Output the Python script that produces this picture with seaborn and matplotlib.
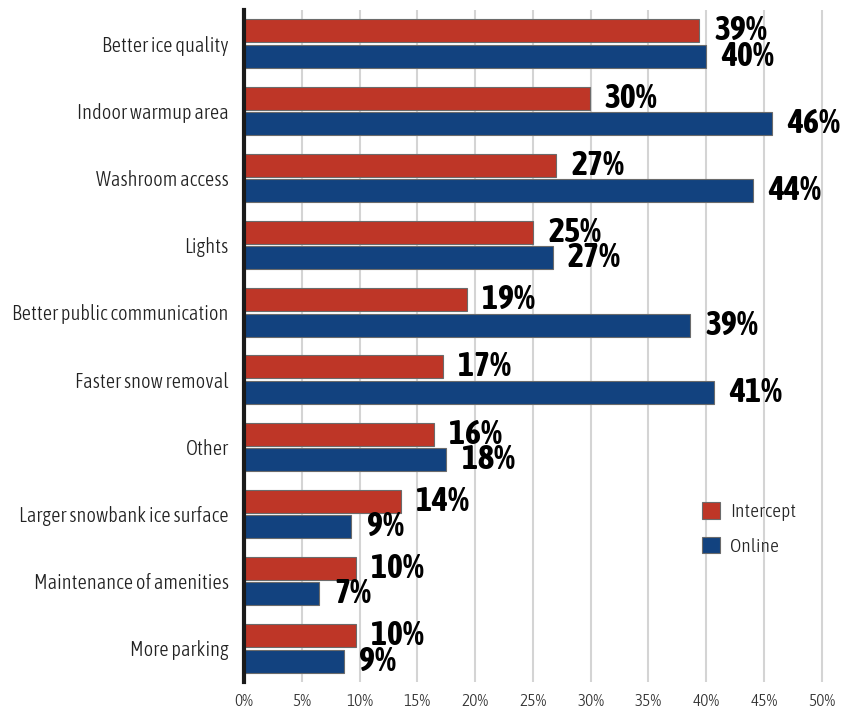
"""
Grouped horizontal bar chart: rink improvements, intercept vs online survey
"""
import matplotlib
matplotlib.use("Agg")
import matplotlib.pyplot as plt
from matplotlib import font_manager
from matplotlib.font_manager import FontProperties
from matplotlib.patches import Patch
import seaborn as sns
import pandas as pd

# ========== Data ==========
categories = [
    "Better ice quality",
    "Indoor warmup area",
    "Washroom access",
    "Lights",
    "Better public communication",
    "Faster snow removal",
    "Other",
    "Larger snowbank ice surface",
    "Maintenance of amenities",
    "More parking",
]
intercept = [39.4, 29.9, 27.0, 25.0, 19.3, 17.2, 16.4, 13.6, 9.7, 9.7]
online = [40.0, 45.7, 44.0, 26.7, 38.6, 40.7, 17.5, 9.3, 6.5, 8.65]
intercept_labels = ["39%", "30%", "27%", "25%", "19%", "17%", "16%", "14%", "10%", "10%"]
online_labels = ["40%", "46%", "44%", "27%", "39%", "41%", "18%", "9%", "7%", "9%"]
groups = ["Intercept", "Online"]
x_ticks = [0, 5, 10, 15, 20, 25, 30, 35, 40, 45, 50]

RED = "#BE3627"
BLUE = "#12427F"

# ========== Fonts: condensed light + condensed bold from one family ==========
def weight_num(w):
    if isinstance(w, (int, float)):
        return w
    return {"light": 300, "normal": 400, "regular": 400, "medium": 500,
            "semibold": 600, "bold": 700, "heavy": 800, "black": 900}.get(str(w).lower(), 400)


def is_narrow(f):
    return ("Condensed" in f.name or "Narrow" in f.name
            or str(f.stretch) in ("condensed", "semi-condensed", "extra-condensed")
            or "Condensed" in f.fname or "Narrow" in f.fname)


narrow_fonts = [f for f in font_manager.fontManager.ttflist
                if is_narrow(f) and f.style == "normal"]

light_fp = FontProperties(family="DejaVu Sans")
bold_fp = FontProperties(family="DejaVu Sans", weight="bold")
if narrow_fonts:
    light = sorted(narrow_fonts, key=lambda f: abs(weight_num(f.weight) - 300))[0]
    same = [f for f in narrow_fonts if f.name == light.name]
    bold = sorted(same, key=lambda f: (abs(weight_num(f.weight) - 700), weight_num(f.weight)))[0]
    light_fp = FontProperties(fname=light.fname)
    bold_fp = FontProperties(fname=bold.fname)

sns.set_theme(style="white")

df = pd.DataFrame({
    "category": categories * 2,
    "group": ["Intercept"] * len(categories) + ["Online"] * len(categories),
    "value": intercept + online,
})

fig = plt.figure(figsize=(8.63, 7.15), dpi=100)
ax = fig.add_axes([0.2827, 0.0462, 0.6964, 0.9398])

sns.barplot(data=df, y="category", x="value", hue="group", orient="h",
            palette=[RED, BLUE], saturation=1, width=0.76, gap=0.1,
            edgecolor="#6b6b6b", linewidth=0.8, ax=ax, legend=False, zorder=3)

for cont, labs in zip(ax.containers, [intercept_labels, online_labels]):
    texts = ax.bar_label(cont, labels=labs, padding=11, color="black")
    for t in texts:
        t.set_fontproperties(bold_fp)
        t.set_fontsize(24.5)

ax.set_xlim(0, 52)
ax.set_xticks(x_ticks)
ax.set_xticklabels([f"{t}%" for t in x_ticks])
ax.set_yticklabels(categories)
for t in ax.get_xticklabels():
    t.set_fontproperties(light_fp)
    t.set_fontsize(12.5)
    t.set_color("#333333")
for t in ax.get_yticklabels():
    t.set_fontproperties(light_fp)
    t.set_fontsize(14.8)
    t.set_color("#222222")
ax.tick_params(axis="both", length=0)
ax.tick_params(axis="x", pad=8)
ax.tick_params(axis="y", pad=11)
ax.set_xlabel("")
ax.set_ylabel("")

ax.grid(axis="x", color="#d4d4d4", linewidth=1.5, zorder=0)
ax.grid(axis="y", visible=False)
for side in ["top", "right", "bottom"]:
    ax.spines[side].set_visible(False)
ax.spines["left"].set_color("#1a1a1a")
ax.spines["left"].set_linewidth(3)
ax.spines["left"].set_zorder(5)

handles = [Patch(facecolor=RED, edgecolor="#6b6b6b", linewidth=0.8),
           Patch(facecolor=BLUE, edgecolor="#6b6b6b", linewidth=0.8)]
leg_fp = light_fp.copy()
leg_fp.set_size(14)
ax.legend(handles, groups, loc="upper left", bbox_to_anchor=(0.733, 0.294),
          frameon=False, handlelength=0.95, handleheight=0.95, handletextpad=0.5,
          labelspacing=0.8, prop=leg_fp)

fig.savefig("out.png", dpi=100)
